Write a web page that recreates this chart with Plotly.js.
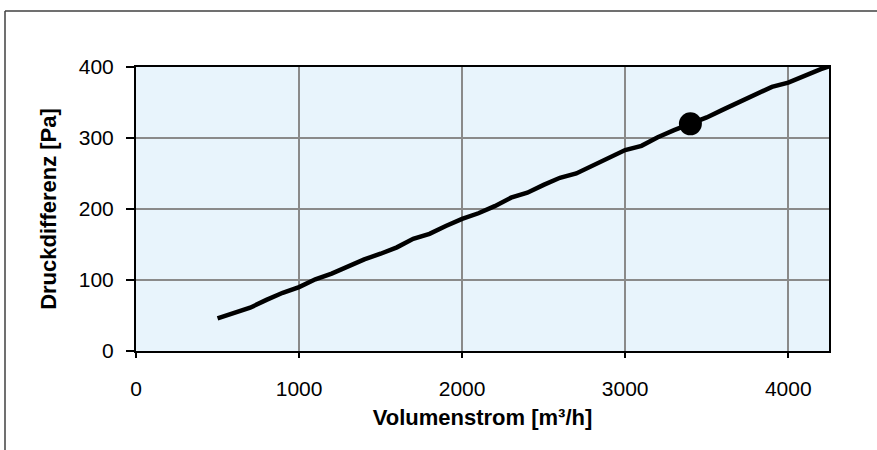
<!DOCTYPE html>
<html>
<head>
<meta charset="utf-8">
<script src="https://cdn.plot.ly/plotly-3.0.1.min.js"></script>
<style>html,body{margin:0;padding:0;background:#fff;}#chart{width:877px;height:450px;}</style>
</head>
<body>
<div id="chart"></div>
<script>
// Volumenstrom [m³/h]
const volumenstrom = [500, 600, 700, 800, 900, 1000, 1100, 1200, 1300, 1400, 1500, 1600, 1700, 1800, 1900, 2000, 2100, 2200, 2300, 2400, 2500, 2600, 2700, 2800, 2900, 3000, 3100, 3200, 3300, 3400, 3500, 3600, 3700, 3800, 3900, 4000, 4100, 4200, 4250];
// Druckdifferenz [Pa]
const druckdifferenz = [46, 54, 61, 72, 82, 90, 101, 109, 119, 129, 137, 146, 158, 165, 176, 186, 194, 204, 216, 223, 234, 244, 250, 261, 273, 283, 289, 301, 311, 320, 329, 340, 351, 361, 372, 378, 388, 397, 401];
// Betriebspunkt
const punktX = [3400];
const punktY = [320];

const xTicks = [0, 1000, 2000, 3000, 4000];
const yTicks = [0, 100, 200, 300, 400];

const L = 136, R = 829, T = 67, B = 351, W = 877, H = 450;
const px = v => (v - L) / (R - L);
const py = v => (B - v) / (B - T);

const traces = [
  {
    x: volumenstrom, y: druckdifferenz, type: 'scatter', mode: 'lines',
    line: {color: '#000000', width: 4.5, shape: 'linear'},
    hoverinfo: 'skip', showlegend: false
  },
  {
    x: punktX, y: punktY, type: 'scatter', mode: 'markers',
    marker: {color: '#000000', size: 23, symbol: 'circle'},
    hoverinfo: 'skip', showlegend: false, cliponaxis: false
  }
];

const fontFam = '"Liberation Sans", Arial, sans-serif';

const layout = {
  width: W, height: H,
  margin: {l: L, r: W - R, t: T, b: H - B, pad: 0},
  paper_bgcolor: '#ffffff',
  plot_bgcolor: '#e8f4fc',
  showlegend: false,
  xaxis: {
    range: [0, 4250],
    tickvals: xTicks, ticktext: xTicks.map(String),
    showgrid: true, gridcolor: '#8a8a8a', gridwidth: 2,
    zeroline: false,
    showline: true, linecolor: '#000000', linewidth: 2, mirror: true,
    ticks: 'outside', ticklen: 5, tickwidth: 2, tickcolor: '#000000',
    ticklabelstandoff: 13,
    tickfont: {family: fontFam, size: 21, color: '#000000'},
    title: {text: '<b>Volumenstrom [m³/h]</b>', font: {family: fontFam, size: 22, color: '#000000'}, standoff: 10}
  },
  yaxis: {
    range: [0, 400],
    tickvals: yTicks, ticktext: yTicks.map(String),
    showgrid: true, gridcolor: '#8a8a8a', gridwidth: 2,
    zeroline: false,
    showline: true, linecolor: '#000000', linewidth: 2, mirror: true,
    ticks: 'outside', ticklen: 8, tickwidth: 2, tickcolor: '#000000',
    ticklabelstandoff: 8,
    tickfont: {family: fontFam, size: 21, color: '#000000'},
    title: {text: '<b>Druckdifferenz [Pa]</b>', font: {family: fontFam, size: 22, color: '#000000'}, standoff: 16}
  },
  shapes: [
    {type: 'line', xref: 'paper', yref: 'paper', x0: px(5), x1: px(W + 5), y0: py(11), y1: py(11), line: {color: '#404040', width: 1.5}},
    {type: 'line', xref: 'paper', yref: 'paper', x0: px(5), x1: px(5), y0: py(11), y1: py(H + 5), line: {color: '#404040', width: 1.5}}
  ]
};

Plotly.newPlot('chart', traces, layout, {staticPlot: true, displayModeBar: false});
</script>
</body>
</html>
